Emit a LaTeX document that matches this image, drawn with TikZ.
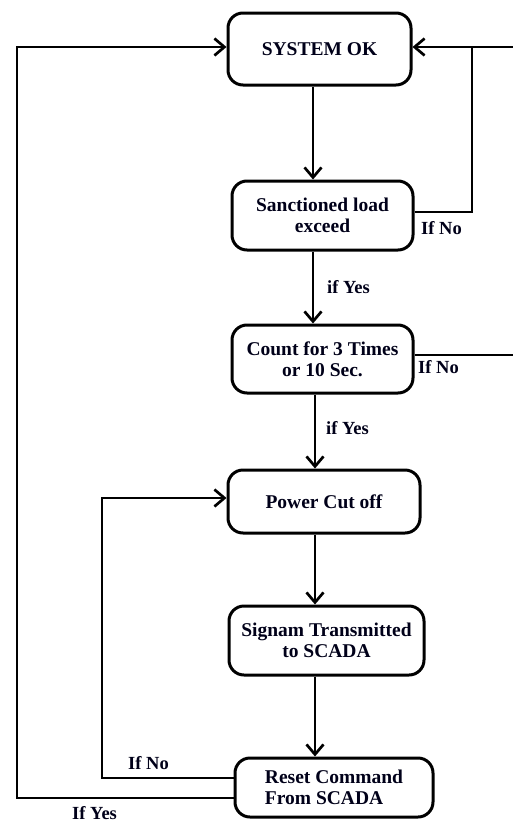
\documentclass[tikz,border=0pt]{standalone}
\usepackage{fontspec}
\setmainfont{Liberation Serif}
\usetikzlibrary{arrows.meta}
\begin{document}
\begin{tikzpicture}[x=1pt,y=-1pt,
  box/.style={draw, line width=3pt, rounded corners=15pt, inner sep=0pt, align=center,
    font=\fontsize{19.5}{21}\selectfont\bfseries, text=black!90!blue},
  conn/.style={line width=2.7pt},
  arr/.style={conn, -{Straight Barb[length=10pt,width=17pt,line width=2.7pt]}},
  lbl/.style={anchor=west, inner sep=0pt, font=\fontsize{18.5}{20}\selectfont\bfseries, text=black!90!blue}]
\useasboundingbox (0,0) rectangle (513,822);
\clip (0,0) rectangle (513,822);
\fill[white] (0,0) rectangle (513,822);
% boxes
\node[box, minimum width=183pt, minimum height=72pt] (sysok) at (319.5,49) {SYSTEM OK};
\node[box, minimum width=181pt, minimum height=69pt] (sanc) at (322.5,215.5) {Sanctioned load\\exceed};
\node[box, minimum width=181pt, minimum height=68pt] (count) at (322.5,359) {Count for 3 Times\\or 10 Sec.};
\node[box, minimum width=192pt, minimum height=63pt] (power) at (324,501.5) {Power Cut off};
\node[box, minimum width=195pt, minimum height=69pt] (signam) at (326.5,640.5) {Signam Transmitted\\to SCADA};
\node[box, minimum width=198pt, minimum height=59pt, align=left] (reset) at (334,787.5) {Reset Command\\From SCADA};
% spine coordinates
\coordinate (sp1) at (313,0);
\coordinate (sp2) at (315,0);
\draw[arr] (sysok.south -| sp1) -- (sanc.north -| sp1);
\draw[arr] (sanc.south -| sp1) -- (count.north -| sp1);
\draw[arr] (count.south -| sp2) -- (power.north -| sp2);
\draw[arr] (power.south -| sp2) -- (signam.north -| sp2);
\draw[arr] (signam.south -| sp2) -- (reset.north -| sp2);
% right loops
\coordinate (rtop) at (517,47);
\coordinate (jn) at (472,47);
\coordinate (rmid) at (517,355);
\draw[arr] (rtop) -- ([yshift=2pt]sysok.east);
\draw[conn] ([yshift=3.5pt]sanc.east) -| (jn);
\draw[conn] ([yshift=4pt]count.east) -- (rmid) -- (rtop);
% left loops
\coordinate (ltop) at (17,47);
\coordinate (itop) at (102,498);
\draw[arr] ([yshift=-10.5pt]reset.west) -| (ltop) -- ([yshift=2pt]sysok.west);
\draw[arr] ([yshift=9.5pt]reset.west) -| (itop) -- ([yshift=3.5pt]power.west);
% labels
\node[lbl] (l1) at (421,228) {If No};
\node[lbl] (l2) at (327,287) {if Yes};
\node[lbl] (l3) at (418,367) {If No};
\node[lbl] (l4) at (326,428) {if Yes};
\node[lbl] (l5) at (128,763) {If No};
\node[lbl] (l6) at (72,813) {If Yes};
\end{tikzpicture}
\end{document}
